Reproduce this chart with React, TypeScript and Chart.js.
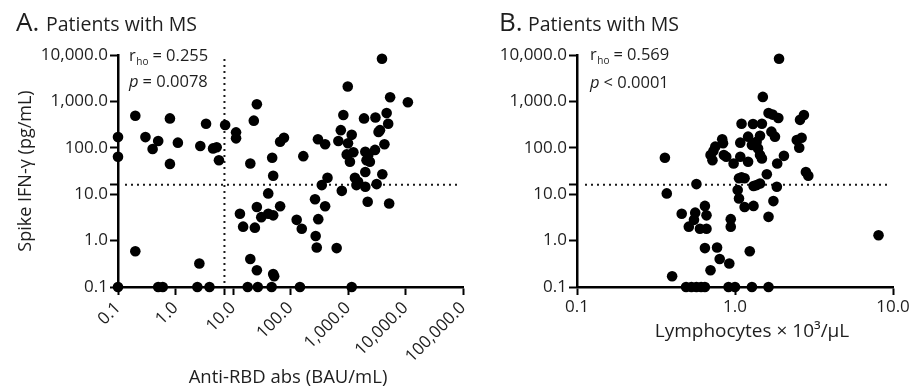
import React, { useEffect, useRef } from "react";
import { Chart, registerables } from "chart.js";
Chart.register(...registerables);

const FONT = '"Open Sans", "DejaVu Sans", sans-serif';
const TEXT = "#1e1e1e";

// ---- Panel A: Anti-RBD abs (BAU/mL) vs Spike IFN-γ (pg/mL)
const antiRbdA = [
  0.2, 0.8, 3.4, 7.3, 23, 26, 11.3, 11.3, 0.1, 0.1, 0.3, 0.5, 0.4, 1.1, 2.7, 4.5, 5.2, 5.7, 0.8, 20,
  48, 50, 66, 77, 3900, 990, 5400, 11000, 830, 1900, 3000, 4700, 5000, 3400, 3600, 750, 1160, 680, 300, 400,
  167, 1000, 1240, 950, 1080, 2000, 2250, 2100, 2400, 2950, 4300, 2000, 3950, 440, 1320, 350, 780, 1400, 2000, 1500,
  3150, 2200, 5200, 267, 400, 128, 157, 304, 274, 286, 635, 146, 1160, 41, 13.2, 26, 66, 31, 41, 50,
  15, 24, 20, 26, 50, 52, 0.2, 2.6, 0.1, 0.5, 0.6, 2.4, 3.9, 18, 27, 47,
];
const ifnA = [
  490, 430, 330, 310, 385, 870, 215, 160, 170, 64, 170, 140, 94, 129, 109, 97, 103, 54, 45, 46,
  61, 25, 135, 165, 8300, 2100, 1230, 960, 510, 430, 450, 560, 330, 220, 240, 240, 190, 140, 153, 119,
  66, 125, 80, 72, 50, 82, 70, 54, 50, 90, 119, 30, 27, 22.6, 22.6, 15.7, 11.8, 15.7, 14.5, 18.5,
  16.5, 6.9, 6.3, 7.8, 5.5, 2.8, 1.8, 2.9, 1.26, 0.71, 0.69, 0.1, 0.1, 10.4, 3.8, 5.3, 5.5, 3.2, 3.8, 3.5,
  2.0, 1.9, 0.4, 0.23, 0.19, 0.17, 0.59, 0.32, 0.1, 0.1, 0.1, 0.1, 0.1, 0.1, 0.1, 0.1,
];

// ---- Panel B: Lymphocytes × 10³/μL vs Spike IFN-γ (pg/mL)
const lymphB = [
  0.36, 1.9, 1.5, 1.63, 1.73, 1.88, 1.1, 1.3, 1.48, 2.73, 2.58, 0.83, 0.84, 1.08, 0.75, 0.73, 0.7, 0.72, 0.85, 0.88,
  0.98, 1.08, 1.21, 1.44, 1.37, 1.7, 1.79, 1.28, 1.4, 1.44, 1.48, 1.21, 2.46, 2.64, 2.55, 2.04, 1.85, 1.59, 2.81, 2.91,
  1.06, 1.1, 1.15, 1.31, 1.37, 1.44, 1.84, 0.57, 0.37, 1.04, 1.06, 1.75, 1.15, 1.31, 1.63, 0.645, 0.46, 0.56, 0.66, 0.55,
  0.51, 0.6, 0.66, 0.94, 0.94, 8.1, 0.645, 0.77, 1.24, 0.8, 0.92, 0.7, 0.4, 0.49, 0.53, 0.57, 0.61, 0.645, 0.91, 1.0,
  1.28, 1.63,
];
const ifnB = [
  61, 8300, 1250, 560, 520, 440, 330, 325, 330, 510, 400, 153, 125, 129, 106, 85, 70, 54, 70, 64,
  46, 64, 174, 182, 135, 223, 174, 115, 97, 70, 59, 50, 147, 165, 100, 67, 46, 27, 30, 25,
  22, 23, 22, 15, 15.7, 17, 14.5, 16.5, 10.4, 12.3, 8.1, 7.1, 5.3, 5.6, 3.25, 5.6, 3.8, 4.0, 3.5, 2.8,
  2.0, 1.8, 1.8, 2.9, 2.0, 1.3, 0.69, 0.71, 0.59, 0.4, 0.32, 0.23, 0.17, 0.1, 0.1, 0.1, 0.1, 0.1, 0.1, 0.1,
  0.1, 0.1,
];

const yTickValues = [0.1, 1, 10, 100, 1000, 10000];
const xTickValuesA = [0.1, 1, 10, 100, 1000, 10000, 100000];
const xTickValuesB = [0.1, 1, 10];
const ifnCutoff = 16;
const rbdCutoff = 7.1;

const H = 387;
const TOP = 55;
const BOTTOM = 287;

const fmt = (v: number) =>
  v.toLocaleString("en-US", { minimumFractionDigits: 1, maximumFractionDigits: 1 });

type PanelCfg = {
  width: number;
  left: number;
  right: number;
  letter: string;
  letterX: number;
  titleX: number;
  statX: number;
  rhoBase: number;
  pBase: number;
  rho: string;
  p: string;
  xTicks: number[];
  xExtra: number[];
  rotate: boolean;
  xTitle: string;
  xTitleX: number;
  xTitleY: number;
  xTitleSize: number;
  yTitle?: string;
  yTitleX?: number;
  vLine?: number;
  hLine: number;
  hLineStart: number;
  hLineEnd: number;
  xs: number[];
  ys: number[];
};

const panelA: PanelCfg = {
  width: 470, left: 118, right: 463,
  letter: "A.", letterX: 16, titleX: 46,
  statX: 129, rhoBase: 61, pBase: 87, rho: "= 0.255", p: "= 0.0078",
  xTicks: xTickValuesA, xExtra: [rbdCutoff], rotate: true,
  xTitle: "Anti-RBD abs (BAU/mL)", xTitleX: 288, xTitleY: 383, xTitleSize: 18.5,
  yTitle: "Spike IFN-γ (pg/mL)", yTitleX: 26,
  vLine: rbdCutoff, hLine: ifnCutoff, hLineStart: 125, hLineEnd: 458,
  xs: antiRbdA, ys: ifnA,
};

const panelB: PanelCfg = {
  width: 443, left: 107, right: 423,
  letter: "B.", letterX: 29, titleX: 58,
  statX: 120, rhoBase: 60, pBase: 88, rho: "= 0.569", p: "< 0.0001",
  xTicks: xTickValuesB, xExtra: [], rotate: false,
  xTitle: "Lymphocytes × 10³/μL", xTitleX: 282, xTitleY: 337, xTitleSize: 19,
  hLine: ifnCutoff, hLineStart: 115, hLineEnd: 418,
  xs: lymphB, ys: ifnB,
};

function createPanel(canvas: HTMLCanvasElement, c: PanelCfg) {
  const decor = {
    id: "decor",
    beforeDatasetsDraw(chart: any) {
      const ctx = chart.ctx as CanvasRenderingContext2D;
      const xs = chart.scales.x;
      const ys = chart.scales.y;
      ctx.save();
      ctx.strokeStyle = "#1a1a1a";
      ctx.lineWidth = 2;
      ctx.setLineDash([2, 4]);
      const yy = ys.getPixelForValue(c.hLine);
      ctx.beginPath();
      ctx.moveTo(c.hLineStart, yy);
      ctx.lineTo(c.hLineEnd, yy);
      ctx.stroke();
      if (c.vLine !== undefined) {
        const xx = xs.getPixelForValue(c.vLine);
        ctx.beginPath();
        ctx.moveTo(xx, ys.bottom - 4);
        ctx.lineTo(xx, ys.top);
        ctx.stroke();
      }
      ctx.restore();
    },
    afterDraw(chart: any) {
      const ctx = chart.ctx as CanvasRenderingContext2D;
      ctx.save();
      ctx.fillStyle = TEXT;
      ctx.textBaseline = "alphabetic";
      ctx.textAlign = "left";
      // panel title
      ctx.font = `26px ${FONT}`;
      ctx.fillText(c.letter, c.letterX, 31);
      ctx.font = `19.5px ${FONT}`;
      ctx.fillText("Patients with MS", c.titleX, 31);
      // stats
      ctx.font = `16.5px ${FONT}`;
      ctx.fillText("r", c.statX, c.rhoBase);
      let x = c.statX + ctx.measureText("r").width + 0.5;
      ctx.font = `10px ${FONT}`;
      ctx.fillText("ho", x, c.rhoBase + 3.5);
      x += ctx.measureText("ho").width + 4;
      ctx.font = `16.5px ${FONT}`;
      ctx.fillText(c.rho, x, c.rhoBase);
      ctx.font = `italic 16.5px ${FONT}`;
      ctx.fillText("p", c.statX, c.pBase);
      const px = c.statX + ctx.measureText("p").width + 4;
      ctx.font = `16.5px ${FONT}`;
      ctx.fillText(c.p, px, c.pBase);
      // axis titles
      ctx.font = `${c.xTitleSize}px ${FONT}`;
      ctx.textAlign = "center";
      ctx.fillText(c.xTitle, c.xTitleX, c.xTitleY);
      if (c.yTitle) {
        ctx.font = `18px ${FONT}`;
        ctx.translate(c.yTitleX!, (TOP + BOTTOM) / 2);
        ctx.rotate(-Math.PI / 2);
        ctx.textBaseline = "middle";
        ctx.fillText(c.yTitle, 0, 0);
      }
      ctx.restore();
    },
  };

  const xAll = [...c.xTicks, ...c.xExtra].sort((a, b) => a - b);
  const yAll = [...yTickValues, ifnCutoff].sort((a, b) => a - b);

  return new Chart(canvas, {
    type: "scatter",
    data: {
      datasets: [
        {
          data: c.xs.map((x, i) => ({ x, y: c.ys[i] })),
          backgroundColor: "#000",
          borderColor: "#000",
          borderWidth: 0,
          pointRadius: 5.3,
          pointHoverRadius: 5.3,
          clip: false as any,
        },
      ],
    },
    options: {
      responsive: false,
      animation: false,
      events: [],
      layout: { padding: { left: 0, right: c.width - c.right, top: TOP, bottom: 0 } },
      plugins: {
        legend: { display: false },
        tooltip: { enabled: false },
        title: { display: false },
      },
      scales: {
        x: {
          type: "logarithmic",
          min: c.xTicks[0],
          max: c.xTicks[c.xTicks.length - 1],
          afterBuildTicks: (s: any) => {
            s.ticks = xAll.map((v) => ({ value: v }));
          },
          afterFit: (s: any) => {
            s.height = H - BOTTOM;
            s.paddingLeft = 0;
            s.paddingRight = 0;
          },
          ticks: {
            autoSkip: false,
            minRotation: c.rotate ? 45 : 0,
            maxRotation: c.rotate ? 45 : 0,
            padding: c.rotate ? 3 : 2,
            color: TEXT,
            font: { family: FONT, size: 17 },
            callback: (v: any) => (c.xTicks.includes(Number(v)) ? fmt(Number(v)) : ""),
          },
          grid: {
            display: true,
            drawOnChartArea: false,
            drawTicks: true,
            tickLength: 8,
            tickWidth: 2,
            tickColor: "#000",
          },
          border: { display: true, width: 2.5, color: "#000" },
        },
        y: {
          type: "logarithmic",
          min: 0.1,
          max: 10000,
          afterBuildTicks: (s: any) => {
            s.ticks = yAll.map((v) => ({ value: v }));
          },
          afterFit: (s: any) => {
            s.width = c.left;
            s.paddingTop = 0;
            s.paddingBottom = 0;
          },
          ticks: {
            autoSkip: false,
            padding: 2,
            color: TEXT,
            font: { family: FONT, size: 17 },
            callback: (v: any) => (yTickValues.includes(Number(v)) ? fmt(Number(v)) : ""),
          },
          grid: {
            display: true,
            drawOnChartArea: false,
            drawTicks: true,
            tickLength: 8,
            tickWidth: 2,
            tickColor: "#000",
          },
          border: { display: true, width: 2.5, color: "#000" },
        },
      },
    } as any,
    plugins: [decor],
  });
}

export default function App() {
  const refA = useRef<HTMLCanvasElement>(null);
  const refB = useRef<HTMLCanvasElement>(null);
  useEffect(() => {
    const a = createPanel(refA.current!, panelA);
    const b = createPanel(refB.current!, panelB);
    return () => {
      a.destroy();
      b.destroy();
    };
  }, []);
  return (
    <div style={{ position: "fixed", left: 0, top: 0, width: 913, height: 387, background: "#fff" }}>
      <canvas
        ref={refA}
        width={470}
        height={387}
        style={{ position: "absolute", left: 0, top: 0, width: 470, height: 387 }}
      />
      <canvas
        ref={refB}
        width={443}
        height={387}
        style={{ position: "absolute", left: 470, top: 0, width: 443, height: 387 }}
      />
    </div>
  );
}
